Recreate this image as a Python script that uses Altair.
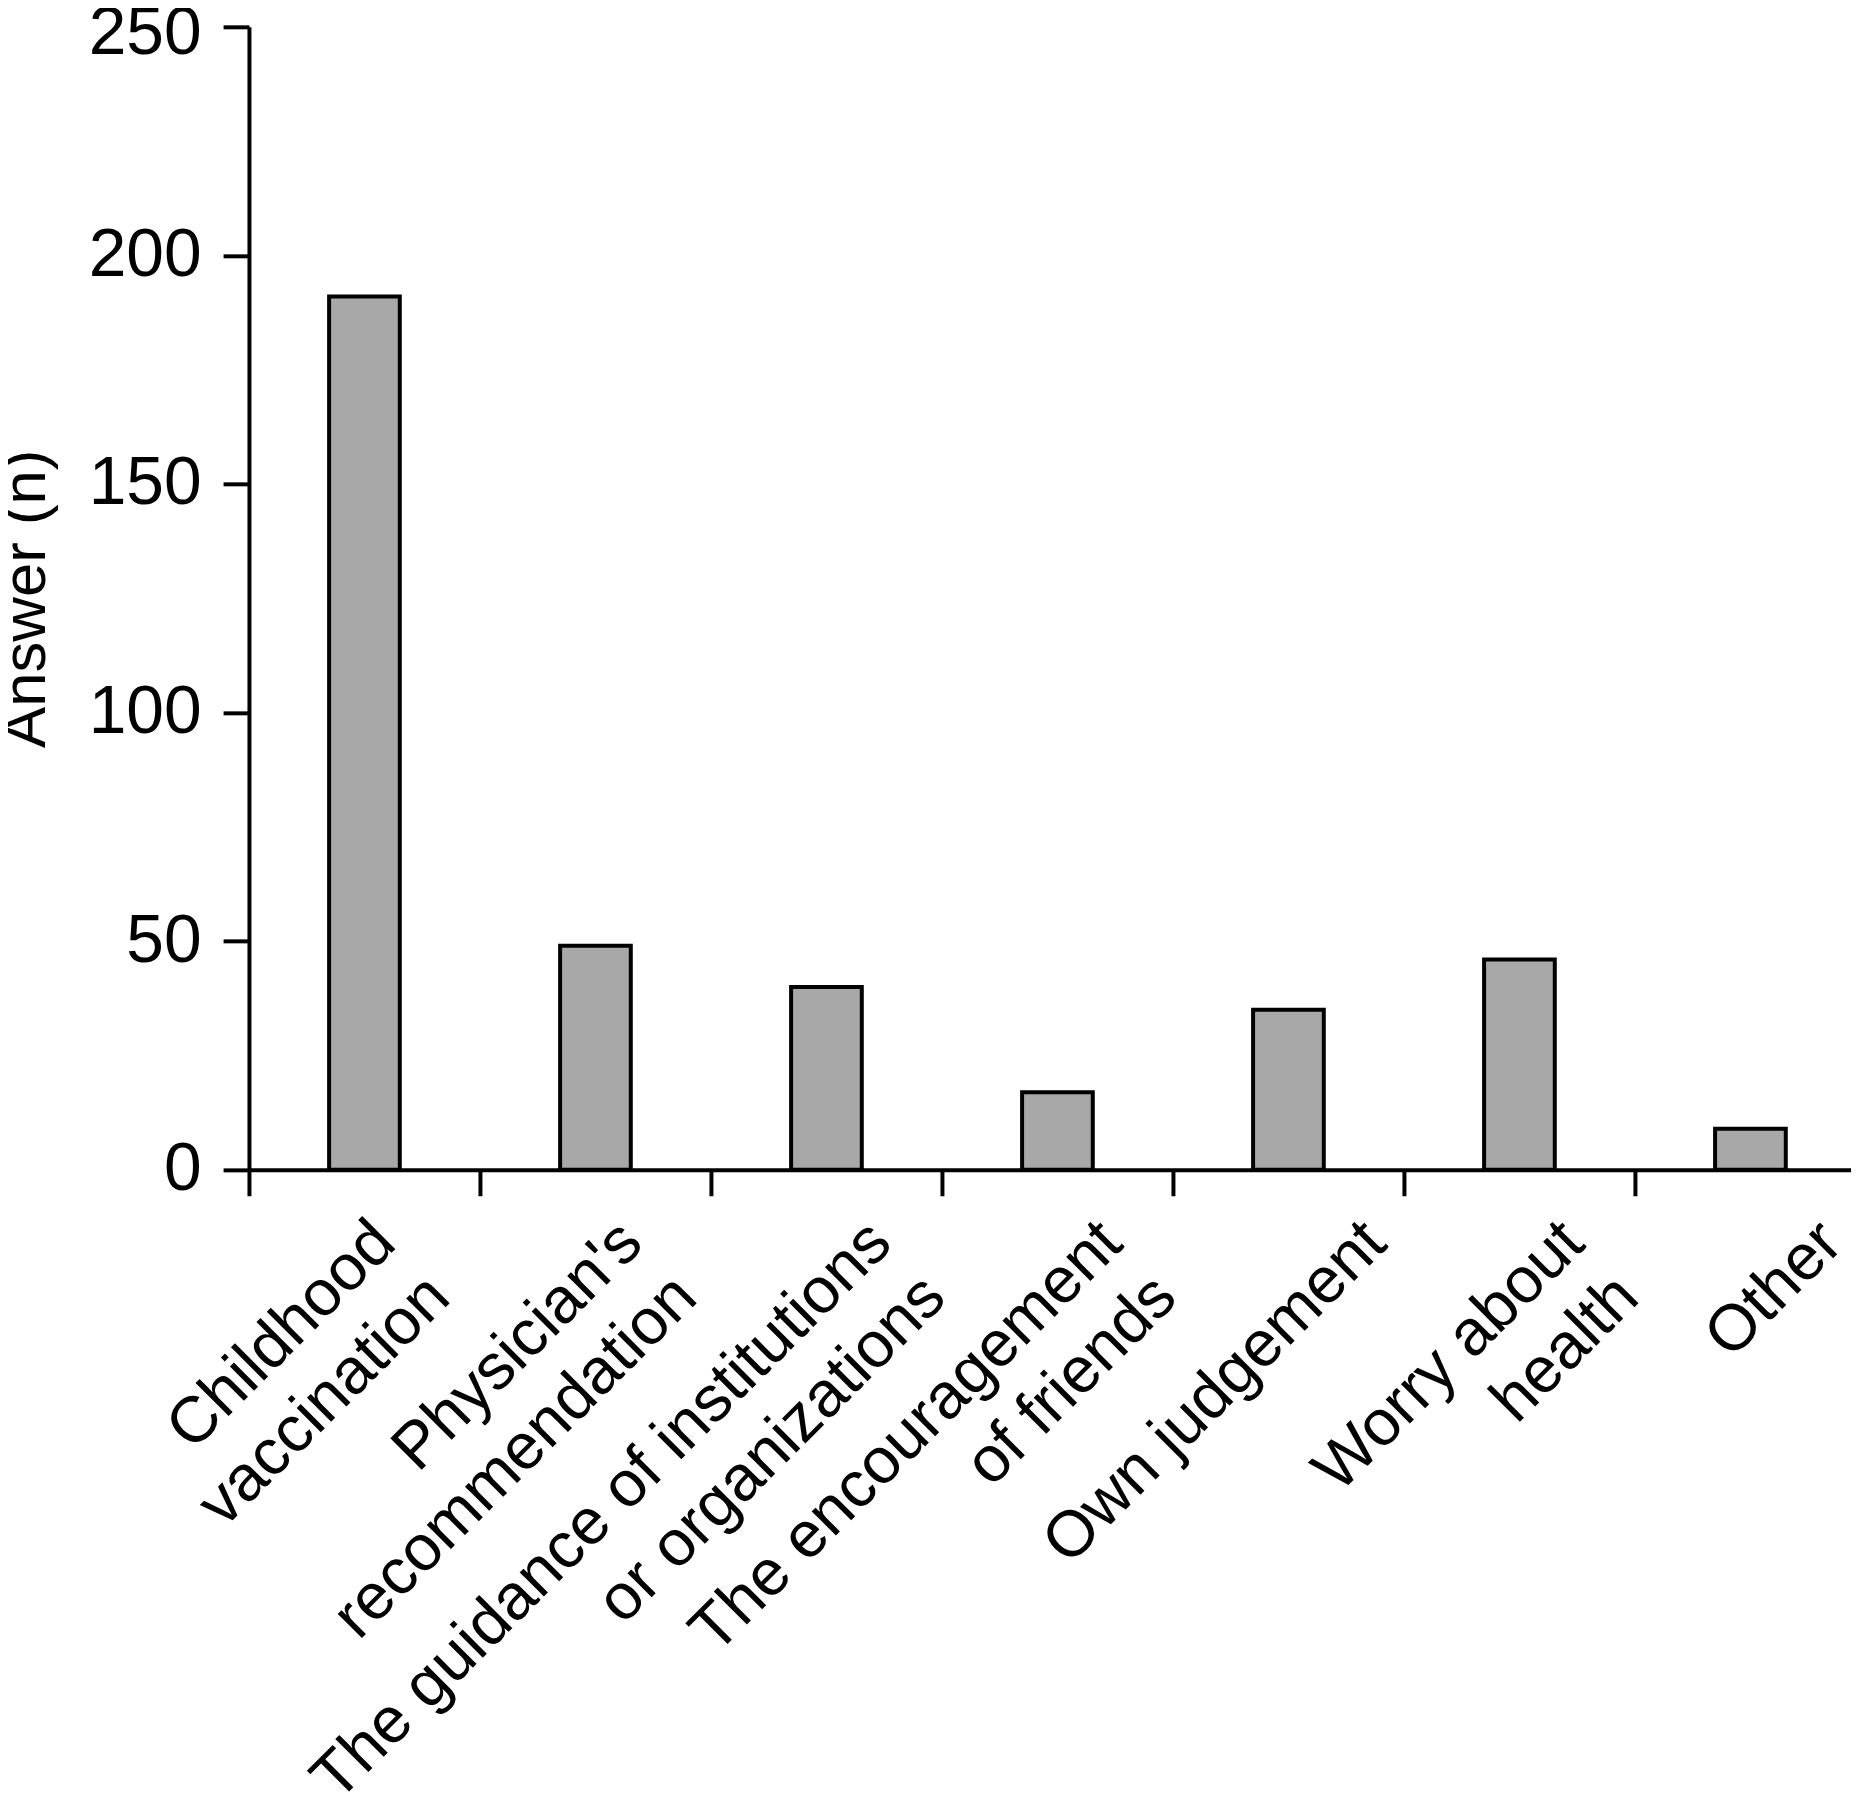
import altair as alt
import pandas as pd

categories = [
    "Childhood|vaccination",
    "Physician's|recommendation",
    "The guidance of institutions|or organizations",
    "The encouragement|of friends",
    "Own judgement",
    "Worry about|health",
    "Other",
]
answers = [191, 49, 40, 17, 35, 46, 9]
y_ticks = [0, 50, 100, 150, 200, 250]

df = pd.DataFrame({"reason": categories, "answer": answers})

FONT = "Liberation Sans"

label_offset = {
    "condition": [
        {"test": "indexof(datum.value, 'Childhood') >= 0", "value": 20},
        {"test": "indexof(datum.value, 'Physician') >= 0", "value": 36},
        {"test": "indexof(datum.value, 'Own') >= 0", "value": 87},
        {"test": "indexof(datum.value, 'Other') >= 0", "value": 81},
    ],
    "value": 54,
}

chart = alt.Chart(df).mark_bar(
    color="#a8a8a8", stroke="black", strokeWidth=4, width=71
).encode(
    x=alt.X(
        "reason:N",
        sort=categories,
        scale=alt.Scale(paddingInner=0, paddingOuter=0, range=[0, 1624]),
        axis=alt.Axis(
            title=None,
            labelAngle=-45,
            labelAlign="right",
            labelBaseline="middle",
            labelExpr="split(datum.label, '|')",
            labelFontSize=65,
            labelFont=FONT,
            labelColor="black",
            labelLineHeight=77,
            labelPadding=36,
            labelOffset=label_offset,
            bandPosition=0,
            ticks=True,
            tickSize=26,
            tickWidth=4,
            tickColor="black",
            domainColor="black",
            domainWidth=4,
            labelOverlap=False,
            labelLimit=2000,
        ),
    ),
    y=alt.Y(
        "answer:Q",
        scale=alt.Scale(domain=[0, 250], nice=False),
        axis=alt.Axis(
            title="Answer (n)",
            values=y_ticks,
            grid=False,
            titleFont=FONT,
            titleFontSize=62,
            titleFontWeight="normal",
            titleColor="black",
            titlePadding=31,
            labelFont=FONT,
            labelFontSize=68,
            labelColor="black",
            labelPadding=22,
            labelOffset={"condition": {"test": "datum.value == 250", "value": 7}, "value": 0},
            tickSize=26,
            tickWidth=4,
            tickColor="black",
            domainColor="black",
            domainWidth=4,
        ),
    ),
).properties(
    width=1609,
    height=1148,
    background="white",
    autosize=alt.AutoSizeParams(type="none"),
    padding={"left": 242, "top": 15, "right": 0, "bottom": 637},
).configure_view(stroke=None)

chart.save("out.html", embed_options={"renderer": "svg", "actions": False})
